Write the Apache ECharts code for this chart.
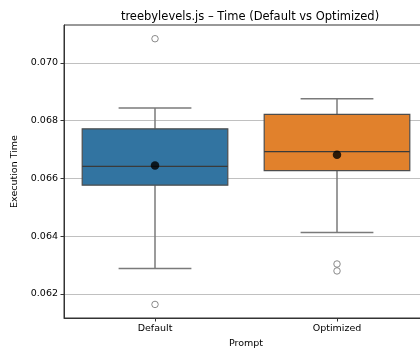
<!DOCTYPE html>
<html>
<head>
<meta charset="utf-8">
<script src="https://cdn.jsdelivr.net/npm/echarts@6/dist/echarts.min.js"></script>
<style>
  html, body { margin: 0; padding: 0; background: #fff; }
  #chart { width: 420px; height: 353px; }
</style>
</head>
<body>
<div id="chart"></div>
<script>
// Box plot statistics per prompt variant
const categories = ['Default', 'Optimized'];
const whiskerLow = [0.06288, 0.06413];
const q1 = [0.06577, 0.06627];
const median = [0.06642, 0.06693];
const q3 = [0.06772, 0.06822];
const whiskerHigh = [0.06844, 0.06876];
const means = [0.06645, 0.06682];
const outliers = [[0.07084, 0.06164], [0.06304, 0.06280]];
const yTicks = [0.062, 0.064, 0.066, 0.068, 0.070];

const boxColors = ['#3274a1', '#e1812c'];
const lineGray = '#4d4d4d';
const whiskerGray = '#7a7a7a';
const font = 'DejaVu Sans';

const boxData = categories.map((c, i) =>
  [i, whiskerLow[i], q1[i], median[i], q3[i], whiskerHigh[i]]);
const meanData = means.map((m, i) => [i, m]);
const outlierData = [];
outliers.forEach((list, i) => list.forEach(v => outlierData.push([i, v])));

function renderBox(params, api) {
  const i = api.value(0);
  const cx = api.coord([i, api.value(3)])[0];
  const w = api.size([1, 0])[0] * 0.8;
  const y = k => api.coord([i, api.value(k)])[1];
  const yLo = y(1), yQ1 = y(2), yMed = y(3), yQ3 = y(4), yHi = y(5);
  const capHalf = w / 4;
  const wStyle = { stroke: whiskerGray, lineWidth: 1.5, fill: null };
  return {
    type: 'group',
    children: [
      { type: 'line', shape: { x1: cx, y1: yQ3, x2: cx, y2: yHi }, style: wStyle },
      { type: 'line', shape: { x1: cx, y1: yQ1, x2: cx, y2: yLo }, style: wStyle },
      { type: 'line', shape: { x1: cx - capHalf, y1: yHi, x2: cx + capHalf, y2: yHi }, style: wStyle },
      { type: 'line', shape: { x1: cx - capHalf, y1: yLo, x2: cx + capHalf, y2: yLo }, style: wStyle },
      { type: 'rect', shape: { x: cx - w / 2, y: yQ3, width: w, height: yQ1 - yQ3 },
        style: { fill: boxColors[i], stroke: lineGray, lineWidth: 1.2 } },
      { type: 'line', shape: { x1: cx - w / 2, y1: yMed, x2: cx + w / 2, y2: yMed },
        style: { stroke: '#3a3a3a', lineWidth: 1.3 } }
    ]
  };
}

const chart = echarts.init(document.getElementById('chart'), null, { renderer: 'canvas' });
chart.setOption({
  animation: false,
  backgroundColor: '#fff',
  title: {
    text: 'treebylevels.js – Time (Default vs Optimized)',
    left: 245, top: 6, textAlign: 'center',
    textStyle: { fontFamily: font, fontSize: 11.5, fontWeight: 'normal', color: '#000' }
  },
  grid: {
    left: 64, top: 25, width: 364, height: 293,
    containLabel: false, outerBoundsMode: 'none',
    show: true, borderColor: '#333', borderWidth: 1, backgroundColor: 'transparent'
  },
  xAxis: {
    type: 'category',
    data: categories,
    boundaryGap: true,
    name: 'Prompt', nameLocation: 'middle', nameGap: 21,
    nameTextStyle: { fontFamily: font, fontSize: 9.5, color: '#000' },
    axisLine: { show: true, lineStyle: { color: '#333', width: 1 } },
    axisTick: { show: true, alignWithLabel: true, length: 3.5, lineStyle: { color: '#333' } },
    axisLabel: { fontFamily: font, fontSize: 9.5, color: '#000', margin: 6 },
    splitLine: { show: false }
  },
  yAxis: {
    type: 'value',
    min: 0.06117, max: 0.071315,
    name: 'Execution Time', nameLocation: 'middle', nameGap: 40, nameRotate: 90,
    nameTextStyle: { fontFamily: font, fontSize: 9.5, color: '#000' },
    axisLine: { show: true, lineStyle: { color: '#333', width: 1 } },
    axisTick: { show: true, length: 3.5, customValues: yTicks, lineStyle: { color: '#333' } },
    axisLabel: { fontFamily: font, fontSize: 9.5, color: '#000', margin: 6,
      customValues: yTicks, formatter: v => v.toFixed(3) },
    splitLine: { show: true, lineStyle: { color: '#b0b0b0', width: 0.8 } }
  },
  series: [
    {
      type: 'custom',
      renderItem: renderBox,
      data: boxData,
      encode: { x: 0, y: [1, 2, 3, 4, 5] },
      z: 2
    },
    {
      type: 'scatter',
      data: outlierData,
      symbol: 'circle', symbolSize: 6.5,
      itemStyle: { color: 'rgba(255,255,255,0)', borderColor: '#6e6e6e', borderWidth: 1 },
      z: 3
    },
    {
      type: 'scatter',
      data: meanData,
      symbol: 'circle', symbolSize: 8.5,
      itemStyle: { color: '#000' },
      z: 4
    }
  ]
});
</script>
</body>
</html>
